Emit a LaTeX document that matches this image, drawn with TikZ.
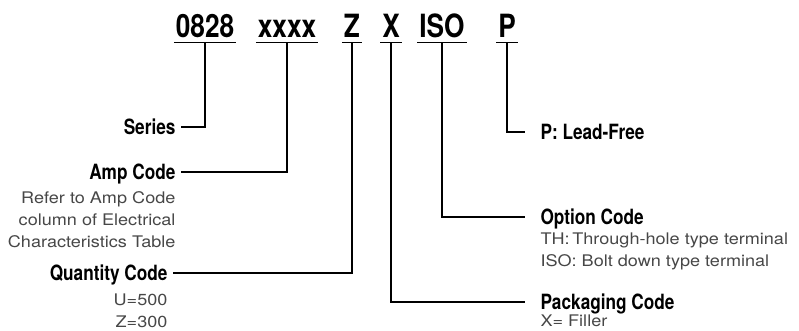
\documentclass[tikz,border=0pt]{standalone}
\usepackage{fontspec}
\setmainfont{TeX Gyre Heros}
\newfontfamily\condfont[FakeStretch=0.82]{TeX Gyre Heros}
\newfontfamily\widefont[FakeStretch=1.13]{TeX Gyre Heros}
\usetikzlibrary{positioning}
\colorlet{desctext}{black!72}

\begin{document}
\begin{tikzpicture}[x=1pt,y=-1pt,line width=1.1pt,
code/.style={anchor=base,inner xsep=1.5pt,inner ysep=4pt,text depth=0pt,
  font=\condfont\bfseries\fontsize{32}{32}\selectfont},
ltitle/.style={anchor=east,inner xsep=5pt,inner ysep=0pt,text height=15pt,text depth=0pt,
  font=\condfont\bfseries\fontsize{21}{21}\selectfont},
rtitle/.style={ltitle,anchor=west,inner xsep=15pt},
ldesc/.style={align=right,inner xsep=5pt,inner ysep=0pt,text=desctext,
  font=\widefont\fontsize{16}{22}\selectfont},
rdesc/.style={ldesc,align=left,inner xsep=15pt},]
\useasboundingbox (0,0) rectangle (799,331);

\node[code] (series code) at (205,38) {0828};
\node[code] (amp code) at (287,38) {xxxx};
\node[code] (qty code) at (352,38) {Z};
\node[code] (pack code) at (391,38) {X};
\node[code] (option code) at (442,38) {ISO};
\node[code] (lead code) at (507,38) {P};
\foreach \c in {series code,amp code,qty code,pack code,option code,lead code}
  \draw (\c.south west) -- (\c.south east);

\node[ltitle] (series) at (181,127) {Series};
\node[ltitle] (amp) at (181,172) {Amp Code};
\node[ldesc,below=11pt of amp.south east,anchor=north east] (amp desc)
  {Refer to Amp Code\\column of Electrical\\Characteristics Table};
\node[ltitle] (qty) at (173,273) {Quantity Code};
\node[ldesc,below=12pt of qty.south east,anchor=north east] (qty desc)
  {U=500\\Z=300};

\node[rtitle] (lead) at (525,132) {P: Lead-Free};
\node[rtitle] (option) at (525,217) {Option Code};
\node[rdesc,below=7pt of option.south west,anchor=north west] (option desc)
  {TH:\,Through-hole type terminal\\ISO: Bolt down type terminal};
\node[rtitle] (pack) at (525,302) {Packaging Code};
\node[rdesc,below=4pt of pack.south west,anchor=north west] (pack desc)
  {X= Filler};

\draw (series code.south) |- (series.east);
\draw (amp code.south) |- (amp.east);
\draw (qty code.south) |- (qty.east);
\draw (pack code.south) |- (pack.west);
\draw (option code.south) |- (option.west);
\draw (lead code.south) |- (lead.west);
\end{tikzpicture}
\end{document}
